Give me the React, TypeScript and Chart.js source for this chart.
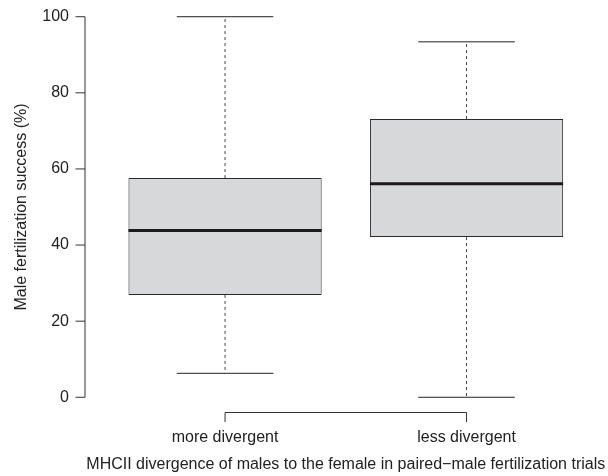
import React, { useEffect, useRef } from "react";
import { Chart, registerables } from "chart.js";

Chart.register(...registerables);

const categories = ["more divergent", "less divergent"];
const whiskerLow = [6.3, 0];
const q1 = [26.9, 42.1];
const median = [43.8, 56.1];
const q3 = [57.6, 73.1];
const whiskerHigh = [100, 93.4];
const yTicks = [0, 20, 40, 60, 80, 100];
const yTitle = "Male fertilization success (%)";
const xTitle = "MHCII divergence of males to the female in paired\u2212male fertilization trials";

const FONT = '16px "Liberation Sans", Arial, sans-serif';
const TEXT = "#222222";
const LINE = "#333333";

const boxPlugin = {
  id: "boxExtras",
  afterDatasetsDraw(chart: any) {
    const { ctx, scales } = chart;
    const x = scales.x;
    const y = scales.y;
    const meta = chart.getDatasetMeta(0);
    ctx.save();
    categories.forEach((_, i) => {
      const bar = meta.data[i];
      const cx = x.getPixelForValue(i + 1);
      const half = bar.width / 2;
      ctx.strokeStyle = "#444";
      ctx.lineWidth = 1;
      ctx.setLineDash([3, 3]);
      ctx.beginPath();
      ctx.moveTo(cx, y.getPixelForValue(q3[i]));
      ctx.lineTo(cx, y.getPixelForValue(whiskerHigh[i]));
      ctx.moveTo(cx, y.getPixelForValue(q1[i]));
      ctx.lineTo(cx, y.getPixelForValue(whiskerLow[i]));
      ctx.stroke();
      ctx.setLineDash([]);
      ctx.strokeStyle = "#222";
      ctx.beginPath();
      ctx.moveTo(cx - half / 2, y.getPixelForValue(whiskerHigh[i]));
      ctx.lineTo(cx + half / 2, y.getPixelForValue(whiskerHigh[i]));
      ctx.moveTo(cx - half / 2, y.getPixelForValue(whiskerLow[i]));
      ctx.lineTo(cx + half / 2, y.getPixelForValue(whiskerLow[i]));
      ctx.stroke();
      ctx.strokeStyle = "#1e1a1c";
      ctx.lineWidth = 3;
      ctx.beginPath();
      ctx.moveTo(cx - half, y.getPixelForValue(median[i]));
      ctx.lineTo(cx + half, y.getPixelForValue(median[i]));
      ctx.stroke();
    });
    ctx.restore();
  },
  afterDraw(chart: any) {
    const { ctx, scales, chartArea } = chart;
    const x = scales.x;
    const y = scales.y;
    const tick = 9.5;
    ctx.save();
    ctx.strokeStyle = LINE;
    ctx.lineWidth = 1;
    ctx.font = FONT;
    ctx.fillStyle = TEXT;
    const ax = chartArea.left;
    ctx.beginPath();
    ctx.moveTo(ax, y.getPixelForValue(yTicks[0]));
    ctx.lineTo(ax, y.getPixelForValue(yTicks[yTicks.length - 1]));
    yTicks.forEach((t) => {
      const py = y.getPixelForValue(t);
      ctx.moveTo(ax - tick, py);
      ctx.lineTo(ax, py);
    });
    ctx.stroke();
    ctx.textAlign = "right";
    ctx.textBaseline = "middle";
    yTicks.forEach((t) => {
      ctx.fillText(String(t), ax - 16, y.getPixelForValue(t));
    });
    const ay = chartArea.bottom;
    const x1 = x.getPixelForValue(1);
    const x2 = x.getPixelForValue(categories.length);
    ctx.beginPath();
    ctx.moveTo(x1, ay);
    ctx.lineTo(x2, ay);
    categories.forEach((_, i) => {
      const px = x.getPixelForValue(i + 1);
      ctx.moveTo(px, ay);
      ctx.lineTo(px, ay + tick);
    });
    ctx.stroke();
    ctx.textAlign = "center";
    categories.forEach((c, i) => {
      ctx.fillText(c, x.getPixelForValue(i + 1), ay + 25.5);
    });
    ctx.fillText(xTitle, (chartArea.left + chartArea.right) / 2, ay + 52.5);
    ctx.translate(22, (chartArea.top + chartArea.bottom) / 2);
    ctx.rotate(-Math.PI / 2);
    ctx.fillText(yTitle, 0, 0);
    ctx.restore();
  },
};

export default function App() {
  const ref = useRef<HTMLCanvasElement>(null);
  useEffect(() => {
    if (!ref.current) return;
    const chart = new Chart(ref.current, {
      type: "bar",
      data: {
        datasets: [
          {
            data: categories.map((_, i) => ({ x: i + 1, y: [q1[i], q3[i]] })) as any,
            backgroundColor: "#d7d8da",
            borderColor: "#2a2a2a",
            borderWidth: 1,
            borderSkipped: false,
            barPercentage: 1,
            categoryPercentage: 0.8,
          },
        ],
      },
      options: {
        animation: false,
        responsive: false,
        devicePixelRatio: 1,
        layout: { padding: { left: 85, right: 1.4, top: 1.5, bottom: 63.5 } },
        plugins: { legend: { display: false }, tooltip: { enabled: false } },
        scales: {
          x: {
            type: "linear",
            display: false,
            offset: false,
            min: 0.42,
            max: 2.58,
            afterBuildTicks: (scale: any) => {
              scale.ticks = categories.map((_, i) => ({ value: i + 1 }));
            },
          },
          y: { display: false, min: -4, max: 104 },
        },
      },
      plugins: [boxPlugin],
    });
    return () => chart.destroy();
  }, []);
  return (
    <div style={{ position: "fixed", left: 0, top: 0, width: 608, height: 476, background: "#fff" }}>
      <canvas ref={ref} width={608} height={476} style={{ display: "block" }} />
    </div>
  );
}
